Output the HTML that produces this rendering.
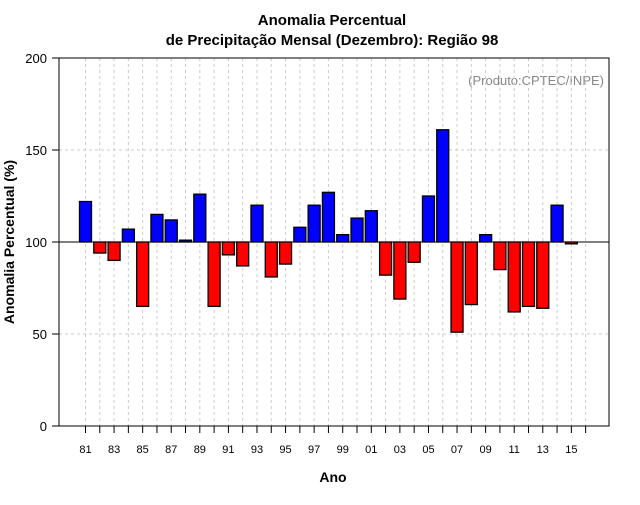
<!DOCTYPE html>
<html><head><meta charset="utf-8"><style>
body{margin:0;background:#fff;font-family:"Liberation Sans",sans-serif}
</style></head><body>
<svg width="640" height="500" xmlns="http://www.w3.org/2000/svg" font-family="Liberation Sans, sans-serif">
<text x="332" y="25" text-anchor="middle" font-size="15" font-weight="bold">Anomalia Percentual</text>
<text x="332" y="45" text-anchor="middle" font-size="15" font-weight="bold">de Precipitação Mensal (Dezembro): Região 98</text>
<text x="604" y="85" text-anchor="end" font-size="13" fill="#888">(Produto:CPTEC/INPE)</text>
<g id="grid"></g>
<g id="bars"></g>
<line x1="59" x2="609" y1="242" y2="242" stroke="#000" stroke-width="1"/>
<rect x="59" y="58" width="550" height="368" fill="none" stroke="#000"/>
<g id="axes" font-size="12"></g>
<text x="333" y="482" text-anchor="middle" font-size="14" font-weight="bold">Ano</text>
<text transform="translate(14,242) rotate(-90)" text-anchor="middle" font-size="14" font-weight="bold">Anomalia Percentual (%)</text>
</svg>
<script>
const years=[1981,1982,1983,1984,1985,1986,1987,1988,1989,1990,1991,1992,1993,1994,1995,1996,1997,1998,1999,2000,2001,2002,2003,2004,2005,2006,2007,2008,2009,2010,2011,2012,2013,2014,2015];
const values=[122,94,90,107,65,115,112,101,126,65,93,87,120,81,88,108,120,127,104,113,117,82,69,89,125,161,51,66,104,85,62,65,64,120,99];
const yTicks=[0,50,100,150,200];
const NS="http://www.w3.org/2000/svg";
const xs=y=>85.5+(y-1981)*14.29;
const ys=v=>426-v*1.84;
const grid=document.getElementById('grid'),bars=document.getElementById('bars'),axes=document.getElementById('axes');
function mk(tag,attrs,parent){const e=document.createElementNS(NS,tag);for(const k in attrs)e.setAttribute(k,attrs[k]);parent.appendChild(e);return e;}
for(let y=1981;y<=2016;y++){
  const g=mk('line',{x1:xs(y),x2:xs(y),y1:58,y2:426,stroke:'#ccc','stroke-dasharray':'3,3'},grid);
  
  
  const t=mk('line',{x1:xs(y),x2:xs(y),y1:426,y2:433,stroke:'#000'},axes);
  
  
  if((y-1981)%2===0&&y<=2015){
    const l=mk('text',{x:xs(y),y:453,'text-anchor':'middle','font-size':'11'},axes);
    l.textContent=String(y%100).padStart(2,'0');
    
    
  }
}
yTicks.forEach(v=>{
  if(v>0&&v<200){const g=mk('line',{x1:59,x2:609,y1:ys(v),y2:ys(v),stroke:'#ccc','stroke-dasharray':'3,3'},grid);
  
  }
  const t=mk('line',{x1:52,x2:59,y1:ys(v),y2:ys(v),stroke:'#000'},axes);
  
  
  const l=mk('text',{x:47,y:ys(v)+5,'text-anchor':'end','font-size':'13'},axes);
  l.textContent=v;
  
  
});
years.forEach((y,i)=>{
  const v=values[i];const top=Math.min(ys(v),ys(100)),h=Math.abs(ys(v)-ys(100));
  const r=mk('rect',{x:xs(y)-6,y:top,width:12,height:Math.max(h,1),fill:v>=100?'#0000ff':'#ff0000',stroke:'#000','stroke-width':1.3},bars);
  
  
});
</script>
</body></html>
